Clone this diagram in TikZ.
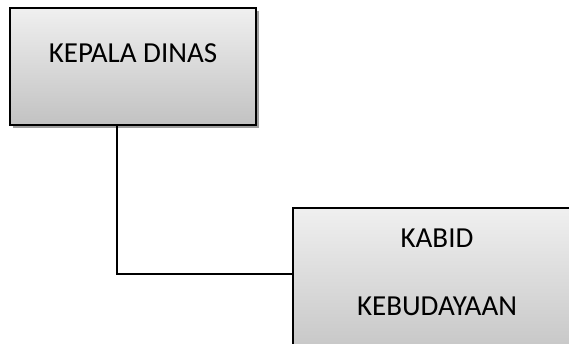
\documentclass[tikz,border=0pt]{standalone}
\usepackage{fontspec}
\setmainfont{Carlito}
\usetikzlibrary{shadows}

\begin{document}
\begin{tikzpicture}[
		x=1pt, y=-1pt,
		box/.style={draw=black, line width=1.6pt, shade, top color=gray!12, bottom color=gray!48,
			drop shadow={shadow xshift=2.5pt, shadow yshift=-2.5pt, fill=gray!75, opacity=1},
			inner sep=0pt},
		lbl/.style={font=\fontsize{29}{35}\selectfont, align=center},
		link/.style={line width=1.6pt}
		]
		\useasboundingbox (0,0) rectangle (569,343);
		\clip (0,0) rectangle (569,343);
		% kepala dinas
		\node[box, minimum width=246pt, minimum height=117pt] (kadis) at (133,66.5) {};
		\node[lbl] (kadistxt) at (133,53) {KEPALA DINAS};
		% kabid kebudayaan
		\node[box, minimum width=288pt, minimum height=160pt] (kabid) at (437,288) {};
		\node[lbl] (kabidtxt1) at (437,238) {KABID};
		\node[lbl] (kabidtxt2) at (437,306) {KEBUDAYAAN};
		% garis
		\coordinate (elbow) at (117,274);
		\draw[link] (kadis.south -| elbow) -- (elbow) -- (elbow -| kabid.west);
	\end{tikzpicture}
\end{document}
